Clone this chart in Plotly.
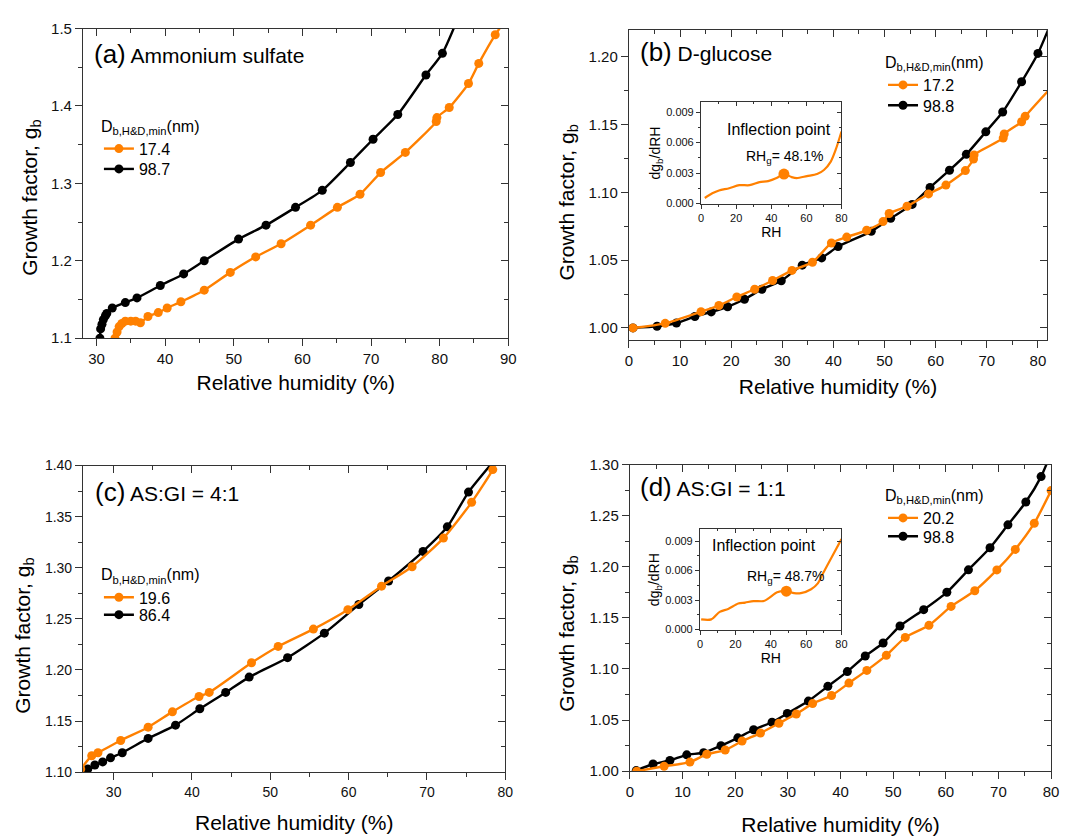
import plotly.graph_objects as go

FONT = "Liberation Sans, Arial, sans-serif"
W, H = 1069, 836
ORANGE = "#FF8000"
BLACK = "#000000"
AXC = "#333333"

# ---------------- data ----------------
# (a) Ammonium sulfate
a_small_label = "17.4"
a_small_rh = [32.7, 33.0, 33.3, 33.7, 34.2, 35.0, 35.7, 36.4, 37.5, 39.0, 40.3, 42.3, 45.7, 49.5, 53.2,
              56.9, 61.2, 65.1, 68.4, 71.4, 75.0, 79.5, 79.6, 81.4, 84.2, 85.7, 88.1, 89.7]
a_small_gf = [1.100, 1.108, 1.115, 1.119, 1.122, 1.122, 1.122, 1.120, 1.128, 1.133, 1.139, 1.147, 1.162, 1.185, 1.205,
              1.222, 1.246, 1.269, 1.286, 1.314, 1.340, 1.380, 1.385, 1.398, 1.429, 1.455, 1.492, 1.512]
a_large_label = "98.7"
a_large_rh = [30.5, 30.6, 30.8, 31.0, 31.3, 31.5, 32.3, 34.2, 35.9, 39.3, 42.7, 45.7, 50.7, 54.7, 59.0,
              62.9, 67.0, 70.3, 73.9, 78.0, 80.4, 83.2]
a_large_gf = [1.100, 1.112, 1.118, 1.124, 1.129, 1.132, 1.139, 1.146, 1.152, 1.168, 1.183, 1.200, 1.228, 1.246, 1.269,
              1.291, 1.327, 1.357, 1.389, 1.440, 1.468, 1.525]

# (b) D-glucose
b_small_label = "17.2"
b_small_rh = [0.8, 7.1, 14.1, 17.6, 21.1, 24.6, 28.1, 31.9, 35.9, 39.6, 42.6, 46.5, 49.7, 50.9, 54.4, 58.6,
              62.0, 65.8, 67.4, 67.5, 73.2, 73.4, 76.8, 77.5, 83.0]
b_small_gf = [1.000, 1.0034, 1.012, 1.0165, 1.0228, 1.0285, 1.035, 1.0424, 1.0484, 1.0626, 1.067, 1.072, 1.0784,
              1.0844, 1.0897, 1.0988, 1.1053, 1.116, 1.1245, 1.1276, 1.140, 1.143, 1.152, 1.156, 1.179]
b_large_label = "98.8"
b_large_rh = [0.8, 5.5, 9.3, 12.9, 16.1, 19.3, 22.6, 26.0, 29.8, 33.9, 37.7, 40.9, 47.4, 51.2, 55.4, 58.9,
              62.7, 66.0, 69.8, 73.1, 76.8, 80.0, 83.0]
b_large_gf = [1.000, 1.0012, 1.0036, 1.0084, 1.0118, 1.0156, 1.0211, 1.0285, 1.0348, 1.0463, 1.0516, 1.0600,
              1.0712, 1.0808, 1.0911, 1.1036, 1.1163, 1.128, 1.1446, 1.1592, 1.1815, 1.2024, 1.229]
b_inset_rh = [2.1, 6.4, 10.2, 16, 21.8, 27.6, 33.3, 38.2, 43, 47.2, 51.6, 54.5, 60.3, 66.1, 70, 73.8, 76.7, 80]
b_inset_d = [0.00054, 0.0010, 0.00128, 0.0015, 0.0018, 0.0018, 0.0021, 0.0022, 0.0025, 0.0029, 0.0026, 0.0025,
             0.0027, 0.0029, 0.0033, 0.0041, 0.0053, 0.0071]
b_infl_rh = [47.2]
b_infl_d = [0.0029]
b_infl_text = "48.1%"

# (c) AS:GI = 4:1
c_small_label = "19.6"
c_small_rh = [25.8, 27.2, 28.0, 30.9, 34.4, 37.5, 40.9, 42.2, 47.6, 51.0, 55.5, 59.9, 64.2, 68.1, 72.1, 75.7, 78.4, 79.5]
c_small_gf = [1.103, 1.116, 1.119, 1.131, 1.144, 1.159, 1.174, 1.178, 1.207, 1.223, 1.240, 1.259, 1.282, 1.301,
              1.329, 1.364, 1.396, 1.415]
c_large_label = "86.4"
c_large_rh = [26.0, 26.7, 27.6, 28.6, 29.6, 31.1, 34.4, 37.9, 41.0, 44.3, 47.3, 52.2, 56.9, 61.3, 65.1, 69.5,
              72.6, 75.3, 78.6]
c_large_gf = [1.100, 1.103, 1.107, 1.110, 1.114, 1.119, 1.133, 1.146, 1.162, 1.178, 1.193, 1.212, 1.236, 1.264,
              1.287, 1.316, 1.340, 1.374, 1.405]

# (d) AS:GI = 1:1
d_small_label = "20.2"
d_small_rh = [1.3, 6.5, 11.4, 14.6, 18.1, 21.3, 24.8, 28.3, 31.6, 34.7, 38.3, 41.6, 45.0, 48.7, 52.3, 56.8,
              61.0, 65.5, 69.7, 73.2, 76.8, 80.0]
d_small_gf = [1.000, 1.0048, 1.0089, 1.0166, 1.0207, 1.0294, 1.0373, 1.0469, 1.0559, 1.0661, 1.074, 1.0862,
              1.0986, 1.1133, 1.1309, 1.1427, 1.1612, 1.1765, 1.1969, 1.217, 1.2426, 1.2745]
d_large_label = "98.8"
d_large_rh = [1.2, 4.4, 7.6, 10.8, 14.0, 17.3, 20.5, 23.5, 27.0, 29.9, 33.9, 37.6, 41.3, 44.7, 48.1, 51.3,
              55.8, 60.2, 64.3, 68.4, 71.8, 75.2, 78.1, 80.5]
d_large_gf = [1.0006, 1.007, 1.0105, 1.016, 1.018, 1.0249, 1.0326, 1.0405, 1.0479, 1.0565, 1.0686, 1.083,
              1.0974, 1.1127, 1.1254, 1.142, 1.158, 1.175, 1.197, 1.2186, 1.241, 1.2633, 1.2882, 1.318]
d_inset_rh = [0.6, 6.3, 11.1, 15.9, 21.6, 25.5, 30.2, 36, 38.9, 43.6, 48.8, 53.2, 57, 62.8, 66.6, 69.5, 74.3, 80]
d_inset_d = [0.00104, 0.00104, 0.0018, 0.0021, 0.00265, 0.00275, 0.0029, 0.0029, 0.0032, 0.0038, 0.0039, 0.0037,
             0.0037, 0.0041, 0.0047, 0.0057, 0.0073, 0.0092]
d_infl_rh = [48.8]
d_infl_d = [0.0039]
d_infl_text = "48.7%"

# ---------------- helpers ----------------
def xd(p0, p1):
    return [p0 / W, p1 / W]


def yd(top, bottom):
    return [1 - bottom / H, 1 - top / H]


def sfx(n):
    return "" if n == 1 else str(n)


fig = go.Figure()
layout = {}


def add_frame(n, xdom, ydom, xr, yr, xdt, xmin, ydt, ymin, yfmt, xtitle, ytitle,
              tickfont=15, titlefont=21, xstand=8, ystand=8, tlen=7, mlen=4):
    """Main axes n (bottom/left, outside ticks) + overlay axes n+1 (top/right, inside ticks)."""
    m = n + 1
    common = dict(showgrid=False, zeroline=False, showline=True, linecolor=AXC, linewidth=1.3,
                  tickcolor=AXC, tickwidth=1.3)
    layout[f"xaxis{sfx(n)}"] = dict(
        domain=xdom, range=xr, anchor=f"y{sfx(n)}", ticks="outside", ticklen=tlen, tick0=0, dtick=xdt,
        minor=dict(ticks="outside", ticklen=mlen, dtick=xmin, tick0=0, tickcolor=AXC, tickwidth=1.3, showgrid=False),
        tickfont=dict(family=FONT, size=tickfont, color="#111"),
        title=dict(text=xtitle, font=dict(family=FONT, size=titlefont, color="#000"), standoff=xstand),
        **common)
    layout[f"yaxis{sfx(n)}"] = dict(
        domain=ydom, range=yr, anchor=f"x{sfx(n)}", ticks="outside", ticklen=tlen, tick0=0, dtick=ydt,
        tickformat=yfmt,
        minor=dict(ticks="outside", ticklen=mlen, dtick=ymin, tick0=0, tickcolor=AXC, tickwidth=1.3, showgrid=False),
        tickfont=dict(family=FONT, size=tickfont, color="#111"),
        title=dict(text=ytitle, font=dict(family=FONT, size=titlefont, color="#000"), standoff=ystand),
        **common)
    layout[f"xaxis{m}"] = dict(
        domain=xdom, range=xr, anchor=f"y{sfx(n)}", overlaying=f"x{sfx(n)}", side="top",
        ticks="inside", ticklen=tlen, tick0=0, dtick=xdt, showticklabels=False,
        minor=dict(ticks="inside", ticklen=mlen, dtick=xmin, tick0=0, tickcolor=AXC, tickwidth=1.3, showgrid=False),
        **common)
    layout[f"yaxis{m}"] = dict(
        domain=ydom, range=yr, anchor=f"x{sfx(n)}", overlaying=f"y{sfx(n)}", side="right",
        ticks="inside", ticklen=tlen, tick0=0, dtick=ydt, showticklabels=False,
        minor=dict(ticks="inside", ticklen=mlen, dtick=ymin, tick0=0, tickcolor=AXC, tickwidth=1.3, showgrid=False),
        **common)
    # empty helper traces so the overlay axes get their own subplots
    fig.add_trace(go.Scatter(x=[], y=[], xaxis=f"x{m}", yaxis=f"y{sfx(n)}", showlegend=False, hoverinfo="skip"))
    fig.add_trace(go.Scatter(x=[], y=[], xaxis=f"x{sfx(n)}", yaxis=f"y{m}", showlegend=False, hoverinfo="skip"))


def add_series(n, rh, gf, color, name, legend):
    fig.add_trace(go.Scatter(
        x=rh, y=gf, mode="lines+markers", name=name, legend=legend,
        line=dict(color=color, width=2.4, shape="spline", smoothing=0.6),
        marker=dict(color=color, size=9, symbol="circle"),
        xaxis=f"x{sfx(n)}", yaxis=f"y{sfx(n)}", cliponaxis=True))


XT = "Relative humidity (%)"

# panel frames
add_frame(1, xd(80, 510), yd(20, 336), [28.05, 90], [1.1, 1.5], 10, 5, 0.1, 0.05, ".1f", XT, "", xstand=8)
add_frame(3, xd(632, 1055), yd(21, 338), [0, 81.8], [0.991, 1.22], 10, 5, 0.05, 0.025, ".2f", XT, "", xstand=11)
add_frame(5, xd(80, 507), yd(466, 779), [26.1, 80], [1.1, 1.4], 10, 5, 0.05, 0.025, ".2f", XT, "", tickfont=14,
          xstand=16)
add_frame(7, xd(633, 1059), yd(465, 778), [0, 80], [1.0, 1.3], 10, 5, 0.05, 0.025, ".2f", XT, "", xstand=20)

# series (black first so orange is drawn on top); each legend entry in its own legend box
add_series(1, a_large_rh, a_large_gf, BLACK, a_large_label, "legend5")
add_series(1, a_small_rh, a_small_gf, ORANGE, a_small_label, "legend")
add_series(3, b_large_rh, b_large_gf, BLACK, b_large_label, "legend6")
add_series(3, b_small_rh, b_small_gf, ORANGE, b_small_label, "legend2")
add_series(5, c_large_rh, c_large_gf, BLACK, c_large_label, "legend7")
add_series(5, c_small_rh, c_small_gf, ORANGE, c_small_label, "legend3")
add_series(7, d_large_rh, d_large_gf, BLACK, d_large_label, "legend8")
add_series(7, d_small_rh, d_small_gf, ORANGE, d_small_label, "legend4")

# insets
INS_YT = "dg<sub>b</sub>/dRH"
add_frame(9, xd(705, 847), yd(95, 199), [0, 80], [-0.00005, 0.0100], 20, 10, 0.003, 0.0015, ".3f",
          "RH", INS_YT, tickfont=11, titlefont=14, xstand=0, ystand=2, tlen=4, mlen=2)
add_frame(11, xd(704, 847), yd(531, 634), [0, 80], [-0.00005, 0.0102], 20, 10, 0.003, 0.0015, ".3f",
          "RH", INS_YT, tickfont=11, titlefont=14, xstand=0, ystand=2, tlen=4, mlen=2)
for n, rh, dv, irh, idv in [(9, b_inset_rh, b_inset_d, b_infl_rh, b_infl_d),
                            (11, d_inset_rh, d_inset_d, d_infl_rh, d_infl_d)]:
    fig.add_trace(go.Scatter(x=rh, y=dv, mode="lines", showlegend=False,
                             line=dict(color=ORANGE, width=2.2, shape="spline", smoothing=0.8),
                             xaxis=f"x{n}", yaxis=f"y{n}"))
    fig.add_trace(go.Scatter(x=irh, y=idv, mode="markers", showlegend=False,
                             marker=dict(color=ORANGE, size=11), xaxis=f"x{n}", yaxis=f"y{n}"))

# legends
LEG_TITLE = "D<sub>b,H&amp;D,min</sub>(nm)"


def legend_at(xpx, ypx, title=True):
    d = dict(x=xpx / W, y=1 - ypx / H, xanchor="left", yanchor="top", bgcolor="rgba(0,0,0,0)",
             font=dict(family=FONT, size=16, color="#000"), tracegroupgap=0)
    if title:
        d["title"] = dict(text=LEG_TITLE, font=dict(family=FONT, size=16, color="#000"))
    return d


layout["legend"] = legend_at(96, 104)
layout["legend5"] = legend_at(96, 146, title=False)
layout["legend2"] = legend_at(889, 39)
layout["legend6"] = legend_at(889, 81, title=False)
layout["legend3"] = legend_at(96, 562)
layout["legend7"] = legend_at(96, 601, title=False)
layout["legend4"] = legend_at(889, 481)
layout["legend8"] = legend_at(889, 521, title=False)

# annotations
ann = []


def label(xpx, ypx, tag, text):
    ann.append(dict(xref="paper", yref="paper", x=xpx / W, y=1 - ypx / H, xanchor="left", yanchor="middle",
                    showarrow=False, text=f"<span style='font-size:26px'>{tag}</span> {text}",
                    font=dict(family=FONT, size=21, color="#000")))


label(89, 46, "(a)", "Ammonium sulfate")
label(641, 44, "(b)", "D-glucose")
label(90, 493, "(c)", "AS:GI = 4:1")
label(641, 488, "(d)", "AS:GI = 1:1")


def center_text(xpx, ypx, text, size, angle=0):
    ann.append(dict(xref="paper", yref="paper", x=xpx / W, y=1 - ypx / H, xanchor="center", yanchor="middle",
                    showarrow=False, text=text, textangle=angle,
                    font=dict(family=FONT, size=size, color="#000")))


YT = "Growth factor, g<sub>b</sub>"
center_text(27, 193, YT, 21, -90)
center_text(570, 198, YT, 21, -90)
center_text(20, 640, YT, 21, -90)
center_text(570, 638, YT, 21, -90)

center_text(784, 123, "Inflection point", 16)
center_text(789, 151, "RH<sub>g</sub>= " + b_infl_text, 14)
center_text(769, 548, "Inflection point", 16)
center_text(790, 580, "RH<sub>g</sub>= " + d_infl_text, 14)

layout["annotations"] = ann

fig.update_layout(
    width=W, height=H, margin=dict(l=0, r=0, t=0, b=0),
    paper_bgcolor="white", plot_bgcolor="rgba(0,0,0,0)",
    font=dict(family=FONT, color="#000"),
    **layout)

fig.write_html("out.html")
